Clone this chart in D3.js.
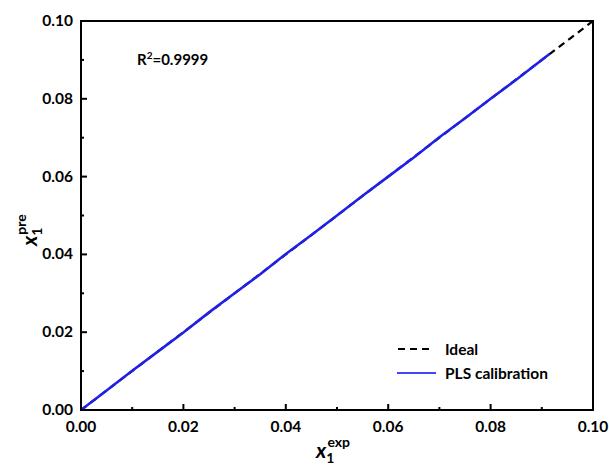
<!DOCTYPE html>
<html><head><meta charset="utf-8">
<script src="https://cdn.jsdelivr.net/npm/d3@7"></script>
<style>body{margin:0;background:#fff}text{font-family:Lato,"Open Sans",sans-serif;font-weight:bold}</style>
</head><body><svg id="c" width="609" height="467"></svg>
<script>
const xTicks=[0,0.02,0.04,0.06,0.08,0.10];
const yTicks=[0,0.02,0.04,0.06,0.08,0.10];
const idealX=[0,0.10];
const plsExp=[0,0.005,0.010,0.015,0.020,0.025,0.030,0.035,0.040,0.045,0.050,0.055,0.060,0.065,0.070,0.075,0.080,0.085,0.0915];
const plsPre=[0,0.0050,0.0101,0.0150,0.0199,0.0251,0.0300,0.0349,0.0401,0.0450,0.0500,0.0551,0.0600,0.0649,0.0701,0.0750,0.0800,0.0849,0.0915];
const r2Label="R²=0.9999";
const seriesNames=["Ideal","PLS calibration"];

const svg=d3.select("#c");
const L=81,R=593,T=21,B=410;
const x=d3.scaleLinear().domain([0,0.1]).range([L,R]);
const y=d3.scaleLinear().domain([0,0.1]).range([B,T]);
const fmt=d3.format(".2f");
const minor=d3.range(0,11).map(i=>i*0.01);

const g=svg.append("g");
minor.forEach(v=>{
  const major=Math.round(v*100)%2===0;
  const len=major?6:3;
  g.append("line").attr("x1",x(v)).attr("x2",x(v)).attr("y1",B).attr("y2",B-len).attr("stroke","#000").attr("stroke-width",2);
  g.append("line").attr("x1",L).attr("x2",L+len).attr("y1",y(v)).attr("y2",y(v)).attr("stroke","#000").attr("stroke-width",2);
});
xTicks.forEach(v=>{
  svg.append("text").attr("x",x(v)).attr("y",B+22).attr("text-anchor","middle").attr("font-size",15.5).text(fmt(v));
});
yTicks.forEach(v=>{
  svg.append("text").attr("x",L-8).attr("y",y(v)+5).attr("text-anchor","end").attr("font-size",15.5).text(fmt(v));
});

const line=d3.line().x(d=>x(d[0])).y(d=>y(d[1]));
svg.append("path").datum(idealX.map(v=>[v,v])).attr("d",line).attr("fill","none").attr("stroke","#000").attr("stroke-width",2.2).attr("stroke-dasharray","7,5");
svg.append("path").datum(plsExp.map((v,i)=>[v,plsPre[i]])).attr("d",line).attr("fill","none").attr("stroke","#2020e8").attr("stroke-width",2.6);

svg.append("rect").attr("x",L).attr("y",T).attr("width",R-L).attr("height",B-T).attr("fill","none").attr("stroke","#000").attr("stroke-width",2);

const rt=svg.append("text").attr("x",137).attr("y",65).attr("font-size",15);
rt.append("tspan").text("R");
rt.append("tspan").attr("dy",-6).attr("font-size",10).text("2");
rt.append("tspan").attr("dy",6).text("=0.9999");

svg.append("line").attr("x1",398).attr("x2",430).attr("y1",349).attr("y2",349).attr("stroke","#000").attr("stroke-width",2.2).attr("stroke-dasharray","7,5");
svg.append("text").attr("x",445).attr("y",355).attr("font-size",15.5).text(seriesNames[0]);
svg.append("line").attr("x1",397).attr("x2",436).attr("y1",373).attr("y2",373).attr("stroke","#4444ff").attr("stroke-width",2);
svg.append("text").attr("x",445).attr("y",379).attr("font-size",15.5).text(seriesNames[1]);

const xl=svg.append("text").attr("x",316).attr("y",458).attr("font-size",21);
xl.append("tspan").attr("font-style","italic").text("x");
xl.append("tspan").attr("dy",5).attr("font-size",14).text("1");
xl.append("tspan").attr("dy",-16).attr("dx",-7).attr("font-size",14).text("exp");
const yl=svg.append("text").attr("transform","translate(37,246) rotate(-90)").attr("font-size",21);
yl.append("tspan").attr("font-style","italic").text("x");
yl.append("tspan").attr("dy",5).attr("font-size",14).text("1");
yl.append("tspan").attr("dy",-16).attr("dx",-7).attr("font-size",14).text("pre");
</script></body></html>
